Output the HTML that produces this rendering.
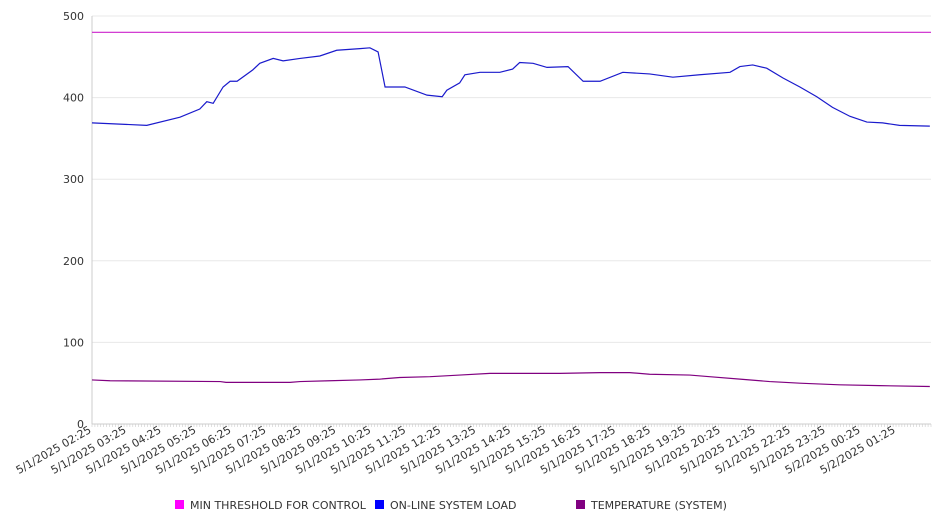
<!DOCTYPE html>
<html><head><meta charset="utf-8"><style>
body{margin:0;background:#fff;font-family:"DejaVu Sans","Liberation Sans",sans-serif;}
svg{display:block}
text{font-family:"DejaVu Sans","Liberation Sans",sans-serif;fill:#333;}
</style></head><body>
<svg id="chart" width="946" height="526" viewBox="0 0 946 526"></svg>
<script>
const yTicks=[0,100,200,300,400,500];
const xLabels=["5/1/2025 02:25","5/1/2025 03:25","5/1/2025 04:25","5/1/2025 05:25","5/1/2025 06:25","5/1/2025 07:25","5/1/2025 08:25","5/1/2025 09:25","5/1/2025 10:25","5/1/2025 11:25","5/1/2025 12:25","5/1/2025 13:25","5/1/2025 14:25","5/1/2025 15:25","5/1/2025 16:25","5/1/2025 17:25","5/1/2025 18:25","5/1/2025 19:25","5/1/2025 20:25","5/1/2025 21:25","5/1/2025 22:25","5/1/2025 23:25","5/2/2025 00:25","5/2/2025 01:25"];
const thresholdValue=480;
const loadMinutes=[0,94,151,185,197,208,225,237,249,276,288,311,328,357,391,420,460,477,491,503,537,575,601,609,631,640,666,700,722,734,757,781,817,843,872,911,957,997,1043,1095,1112,1134,1158,1186,1215,1244,1271,1301,1330,1357,1386,1438];
const loadValues=[369,366,376,386,395,393,413,420,420,434,442,448,445,448,451,458,460,461,456,413,413,403,401,409,418,428,431,431,435,443,442,437,438,420,420,431,429,425,428,431,438,440,436,424,413,401,388,377,370,369,366,365];
const tempMinutes=[0,31,220,230,340,357,408,460,494,528,580,631,683,803,872,923,957,1026,1060,1112,1163,1215,1283,1352,1438];
const tempValues=[54,53,52,51,51,52,53,54,55,57,58,60,62,62,63,63,61,60,58,55,52,50,48,47,46];

const X0=92,X1=931,Y0=424,Y1=16,TOTAL=1440;
const xs=m=>X0+(m/TOTAL)*(X1-X0);
const ys=v=>Y0-(v/500)*(Y0-Y1);
const svg=document.getElementById('chart');
const NS='http://www.w3.org/2000/svg';
function mk(t,a){const e=document.createElementNS(NS,t);for(const k in a)e.setAttribute(k,a[k]);svg.appendChild(e);return e;}

yTicks.forEach(v=>{
  const g=mk('line',{x1:X0,x2:X1,y1:ys(v),y2:ys(v),stroke:'#e8e8e8','stroke-width':1});
  
  
  const t=mk('text',{x:84,y:ys(v)+4,'text-anchor':'end','font-size':11});
  t.textContent=v;
  
  
});
const ax=mk('line',{x1:X0,x2:X0,y1:Y1,y2:Y0,stroke:'#ccc'});


const bx=mk('line',{x1:X0,x2:X1,y1:Y0,y2:Y0,stroke:'#ccc'});


for(let m=0;m<=TOTAL;m+=5){
  const tk=mk('line',{x1:xs(m),x2:xs(m),y1:Y0,y2:Y0+3,stroke:'#ccc','stroke-width':0.6});
  
  
}
xLabels.forEach((l,i)=>{
  const x=xs(i*60);
  const t=mk('text',{x:x,y:Y0+8,'text-anchor':'end','font-size':11,transform:`rotate(-30 ${x} ${Y0+8})`});
  t.textContent=l;
  
  
});
const th=mk('line',{x1:X0,x2:X1,y1:ys(thresholdValue),y2:ys(thresholdValue),stroke:'#cc22cc','stroke-width':1.2});


const lp=mk('polyline',{points:loadMinutes.map((m,i)=>xs(m)+','+ys(loadValues[i])).join(' '),fill:'none',stroke:'#1a1acc','stroke-width':1.2});


const tp=mk('polyline',{points:tempMinutes.map((m,i)=>xs(m)+','+ys(tempValues[i])).join(' '),fill:'none',stroke:'#800080','stroke-width':1.2});



const legend=[["MIN THRESHOLD FOR CONTROL","#ff00ff",175],["ON-LINE SYSTEM LOAD","#0000ff",375],["TEMPERATURE (SYSTEM)","#800080",576]];
legend.forEach(([n,c,x])=>{
  const r=mk('rect',{x:x,y:500,width:9,height:9,fill:c});
  
  
  const t=mk('text',{x:x+15,y:509,'font-size':11});
  t.textContent=n;
  
  
});
</script>
</body></html>
